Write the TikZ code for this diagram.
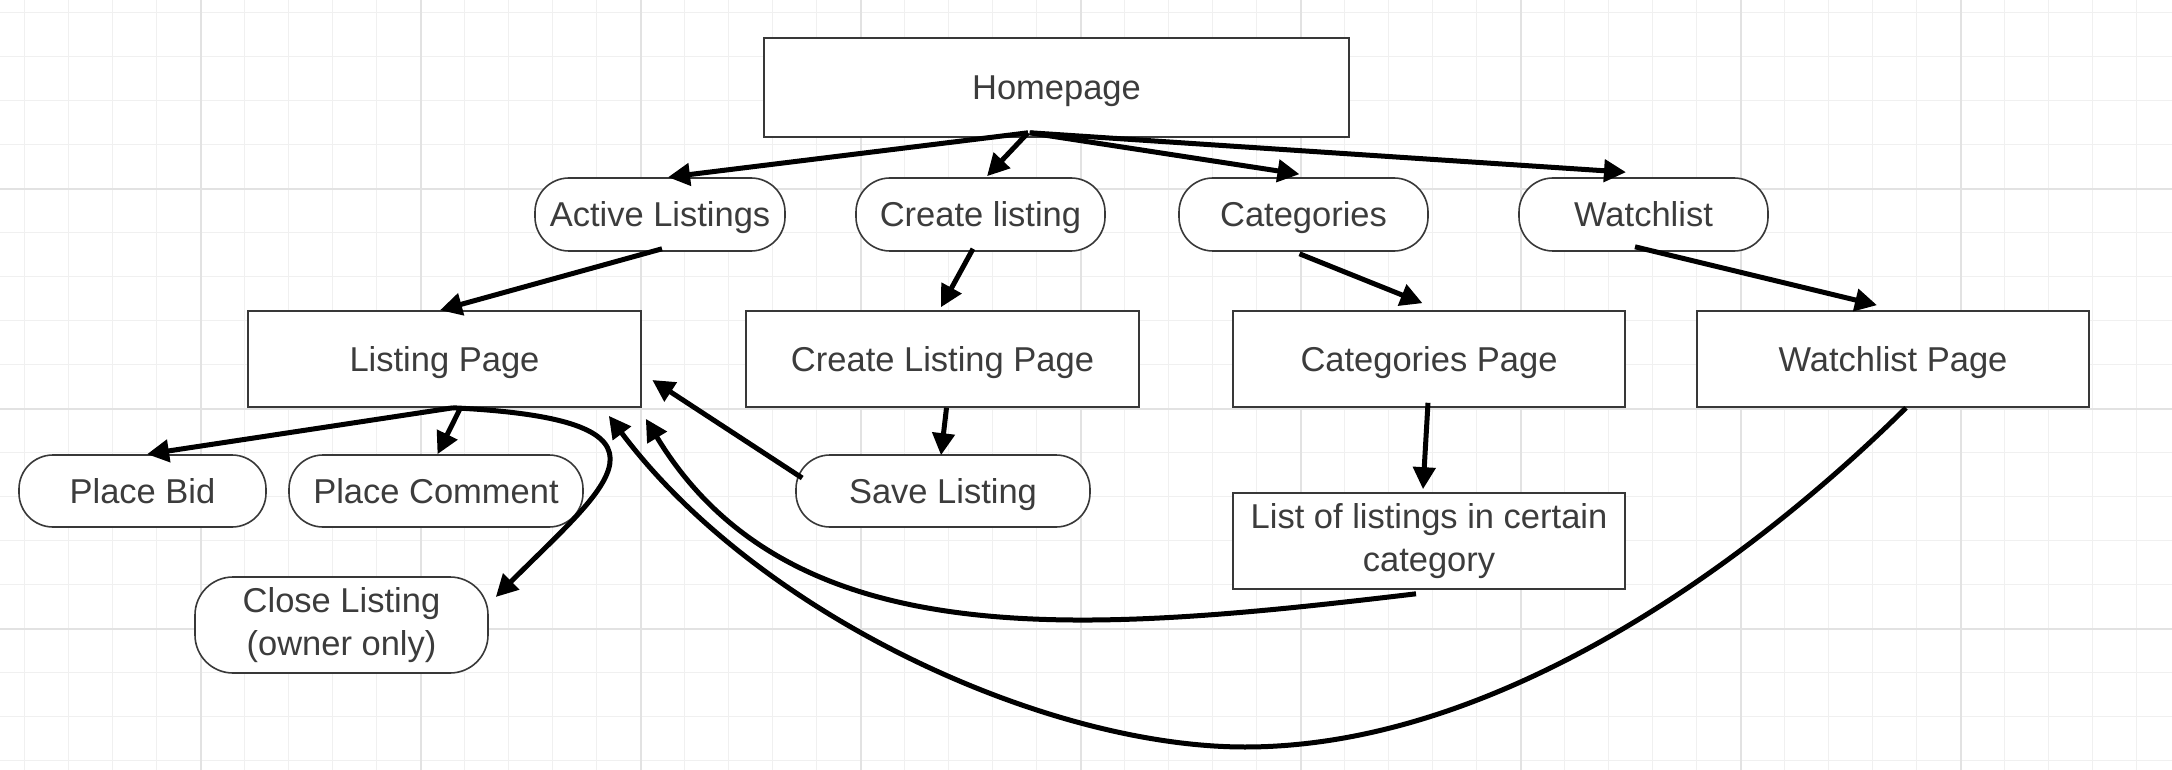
\documentclass[tikz,border=0pt]{standalone}
\usepackage{fontspec}
\setmainfont{Liberation Sans}
\usetikzlibrary{arrows.meta}
\definecolor{txt}{HTML}{3C3C3C}
\definecolor{bord}{HTML}{383838}
\definecolor{gminor}{HTML}{F0F0F0}
\definecolor{gmajor}{HTML}{E2E2E2}
\begin{document}
\begin{tikzpicture}[x=1pt,y=-1pt,
  box/.style={draw=bord, line width=1.6pt, fill=white, text=txt, inner sep=0pt,
    font=\fontsize{34.5}{43}\selectfont, align=center},
  pill/.style={box, rounded corners=34pt},
  one/.style={text height=24.7pt, text depth=0pt},
  link/.style={line width=5pt, black, -{Triangle[length=22pt,width=22pt]}},
  gridminor/.style={gminor, line width=1.5pt},
  gridmajor/.style={gmajor, line width=2pt}
]
\useasboundingbox (0,0) rectangle (2172,770);
\fill[white] (0,0) rectangle (2172,770);
% grid
\foreach \k in {0,...,48} \draw[gridminor] ({24.5+44*\k},0) -- ({24.5+44*\k},770);
\foreach \k in {0,...,17} \draw[gridminor] (0,{12.7+44*\k}) -- (2172,{12.7+44*\k});
\foreach \k in {0,...,8} \draw[gridmajor] ({200.5+220*\k},0) -- ({200.5+220*\k},770);
\foreach \k in {0,...,2} \draw[gridmajor] (0,{188.7+220*\k}) -- (2172,{188.7+220*\k});

% nodes
\node[box,one, minimum width=585pt, minimum height=99pt] (home) at (1056.5,87.5) {Homepage};
\node[pill,one, minimum width=250pt, minimum height=73pt] (active) at (660,214.5) {Active Listings};
\node[pill,one, minimum width=249pt, minimum height=73pt] (create) at (980.5,214.5) {Create listing};
\node[pill,one, minimum width=249pt, minimum height=73pt] (cats) at (1303.5,214.5) {Categories};
\node[pill,one, minimum width=249pt, minimum height=73pt] (watch) at (1643.5,214.5) {Watchlist};
\node[box,one, minimum width=393pt, minimum height=96pt] (lpage) at (444.5,359) {Listing Page};
\node[box,one, minimum width=393pt, minimum height=96pt] (cpage) at (942.5,359) {Create Listing Page};
\node[box,one, minimum width=392pt, minimum height=96pt] (catpage) at (1429,359) {Categories Page};
\node[box,one, minimum width=392pt, minimum height=96pt] (wpage) at (1893,359) {Watchlist Page};
\node[pill,one, minimum width=247pt, minimum height=72pt] (bid) at (142.5,491) {Place Bid};
\node[pill,one, minimum width=294pt, minimum height=72pt] (comment) at (436,491) {Place Comment};
\node[pill,one, minimum width=294pt, minimum height=72pt] (save) at (943,491) {Save Listing};
\node[pill, rounded corners=38pt, minimum width=293pt, minimum height=96pt] (close) at (341.5,625) {Close Listing\\(owner only)};
\node[box, minimum width=392pt, minimum height=96pt] (list) at (1429,541) {List of listings in certain\\category};
\coordinate (wbot) at (1245,747);

% connectors
\draw[link] ([xshift=-28.5pt,yshift=5pt]home.south) -- ([xshift=8pt]active.north);
\draw[link] ([xshift=-28.5pt,yshift=5pt]home.south) -- ([xshift=6.5pt,yshift=1pt]create.north);
\draw[link] ([xshift=-27pt,yshift=5pt]home.south) -- ([xshift=-4pt,yshift=3pt]cats.north);
\draw[link] ([xshift=-26pt,yshift=5pt]home.south) -- ([xshift=-17.5pt,yshift=5pt]watch.north);
\draw[link] ([xshift=2pt,yshift=3pt]active.south) -- ([xshift=-4.5pt]lpage.north);
\draw[link] ([xshift=-7.5pt,yshift=3pt]create.south) -- ([xshift=-1.5pt,yshift=3pt]cpage.north);
\draw[link] ([xshift=-4pt,yshift=-2pt]cats.south) -- ([xshift=-6.5pt,yshift=7pt]catpage.north);
\draw[link] ([xshift=-8.5pt,yshift=5pt]watch.south) -- ([xshift=-16pt,yshift=5pt]wpage.north);
\draw[link] ([xshift=8.5pt]lpage.south) -- ([xshift=4.5pt]bid.north);
\draw[link] ([xshift=15.5pt,yshift=-1pt]lpage.south) -- ([xshift=1.5pt]comment.north);
\draw[link] ([xshift=8.5pt]lpage.south) .. controls (700,420) and (605,487) .. ([xshift=7pt,yshift=28pt]close.east);
\draw[link] ([xshift=7pt,yshift=13pt]save.west) -- ([xshift=10.5pt,yshift=-21pt]lpage.east);
\draw[link] ([xshift=-1pt,yshift=5pt]catpage.south) -- ([xshift=-6pt,yshift=3pt]list.north);
\draw[link] ([xshift=4pt]cpage.south) -- ([xshift=-2pt,yshift=-1pt]save.north);
\draw[link] ([xshift=-13pt,yshift=-4pt]list.south) .. controls (1086,633) and (791,659) .. ([xshift=4pt,yshift=-11pt]lpage.south east);
\draw[link] ([xshift=13pt]wpage.south) .. controls (1746,566) and (1495,747) .. (wbot)
  .. controls (1045,747) and (758,615) .. ([xshift=-33pt,yshift=-8pt]lpage.south east);
\end{tikzpicture}
\end{document}
